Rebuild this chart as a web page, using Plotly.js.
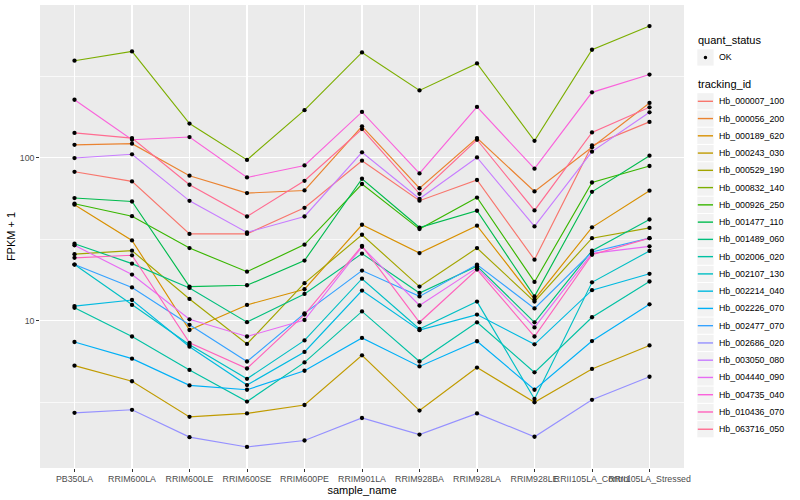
<!DOCTYPE html>
<html>
<head>
<meta charset="utf-8">
<script src="https://cdn.plot.ly/plotly-3.0.1.min.js"></script>
<style>html,body{margin:0;padding:0;background:#fff}#chart{width:800px;height:500px}</style>
</head>
<body>
<div id="chart"></div>
<script>
// ---- data (FPKM + 1) ----
const samples = ['PB350LA','RRIM600LA','RRIM600LE','RRIM600SE','RRIM600PE','RRIM901LA','RRIM928BA','RRIM928LA','RRIM928LE','RRII105LA_Control','RRII105LA_Stressed'];
const trackingIds = ['Hb_000007_100','Hb_000056_200','Hb_000189_620','Hb_000243_030','Hb_000529_190','Hb_000832_140','Hb_000926_250','Hb_001477_110','Hb_001489_060','Hb_002006_020','Hb_002107_130','Hb_002214_040','Hb_002226_070','Hb_002477_070','Hb_002686_020','Hb_003050_080','Hb_004440_090','Hb_004735_040','Hb_010436_070','Hb_063716_050'];
const quantStatus = ['OK'];

const hb_000007_100 = [82, 71.6, 34.1, 34.1, 49.3, 95.9, 54.5, 73.0, 23.7, 119, 166];
const hb_000056_200 = [120, 122, 77.6, 60.7, 63.0, 156, 65.0, 132, 62.1, 116, 217];
const hb_000189_620 = [51.5, 31.1, 8.77, 12.5, 15.6, 38.8, 26.0, 38.3, 13.5, 37.4, 62.8];
const hb_000243_030 = [5.3, 4.25, 2.57, 2.70, 3.04, 6.13, 2.81, 5.16, 3.16, 5.06, 7.05];
const hb_000529_190 = [25.6, 26.9, 13.6, 7.2, 17.0, 33.7, 16.2, 27.9, 13.1, 32.1, 37.1];
const hb_000832_140 = [394, 449, 162, 97, 196, 443, 259, 379, 127, 460, 643];
const hb_000926_250 = [52.2, 43.8, 27.9, 20.0, 29.3, 69.0, 36.5, 57.0, 17.3, 70.5, 89];
const hb_001477_110 = [56.6, 53.9, 16.2, 16.5, 23.4, 74.3, 37.3, 47.3, 14.1, 61.8, 103];
const hb_001489_060 = [29.7, 22.4, 15.9, 9.8, 14.6, 25.8, 14.8, 21.6, 9.78, 26.9, 41.8];
const hb_002006_020 = [12.0, 8.0, 4.99, 3.19, 5.55, 11.4, 5.62, 9.78, 4.82, 10.5, 17.4];
const hb_002107_130 = [22.1, 12.5, 7.12, 4.40, 7.57, 18.1, 8.9, 13.1, 3.31, 17.2, 26.8];
const hb_002214_040 = [12.3, 13.4, 6.93, 4.03, 6.43, 15.3, 8.75, 10.9, 7.16, 15.4, 19.4];
const hb_002226_070 = [7.4, 5.85, 4.01, 3.77, 4.93, 7.84, 5.24, 7.48, 3.77, 7.5, 12.6];
const hb_002477_070 = [22.1, 16.0, 9.44, 5.62, 11.1, 20.3, 14.1, 22.1, 11.9, 26.4, 32.1];
const hb_002686_020 = [2.72, 2.84, 1.93, 1.68, 1.84, 2.53, 2.0, 2.70, 1.94, 3.27, 4.53];
const hb_003050_080 = [99.6, 105, 54.4, 34.8, 43.6, 108, 56.0, 100.4, 37.9, 109, 190];
const hb_004440_090 = [29, 19.2, 10.2, 8.0, 10.1, 28.4, 12.4, 21.1, 9.1, 25.9, 28.6];
const hb_004735_040 = [227, 129, 134, 75.7, 89.7, 191, 80.1, 205, 85.7, 252, 324];
const hb_010436_070 = [24.3, 25.2, 7.32, 5.09, 10.9, 28.8, 9.78, 20.6, 8.0, 25.4, 32.1];
const hb_063716_050 = [142, 132, 68.3, 43.6, 72.2, 150, 60.1, 129, 47.5, 143, 204];

const seriesValues = [hb_000007_100, hb_000056_200, hb_000189_620, hb_000243_030, hb_000529_190, hb_000832_140, hb_000926_250, hb_001477_110, hb_001489_060, hb_002006_020, hb_002107_130, hb_002214_040, hb_002226_070, hb_002477_070, hb_002686_020, hb_003050_080, hb_004440_090, hb_004735_040, hb_010436_070, hb_063716_050];

// ggplot2 default hue palette for 20 levels
const colors = ['#F8766D','#EA8331','#D89000','#C09B00','#A3A500','#7CAE00','#39B600','#00BB4E','#00BF7D','#00C1A3','#00BFC4','#00BAE0','#00B0F6','#35A2FF','#9590FF','#C77CFF','#E76BF3','#FA62DB','#FF62BC','#FF6C91'];

// ---- layout geometry ----
const W = 800, H = 500;
const M = {l: 40, r: 116, t: 5, b: 32};
const PW = W - M.l - M.r, PH = H - M.t - M.b;
const px = v => (v - M.l) / PW;
const py = v => (H - M.b - v) / PH;
const FONT = 'Liberation Sans, Arial, Helvetica, sans-serif';

// ---- traces: lines first, then points on top ----
const traces = [];
seriesValues.forEach((vals, i) => {
  traces.push({
    type: 'scatter', mode: 'lines', x: samples, y: vals, name: trackingIds[i],
    line: {color: colors[i], width: 1.15}, showlegend: false, hoverinfo: 'x+y+name'
  });
});
seriesValues.forEach((vals, i) => {
  traces.push({
    type: 'scatter', mode: 'markers', x: samples, y: vals, name: quantStatus[0],
    marker: {color: '#000000', size: 4.3}, showlegend: false, hoverinfo: 'skip'
  });
});

// y range: log10 data range expanded by 5%
const allLog = seriesValues.flat().map(v => Math.log10(v));
const lo = Math.min(...allLog), hi = Math.max(...allLog);
const pad = 0.05 * (hi - lo);

// ---- manual ggplot-style legend ----
const shapes = [];
const annotations = [];
annotations.push({xref: 'paper', yref: 'paper', x: px(696), y: py(40), xanchor: 'left', yanchor: 'middle',
  text: 'quant_status', showarrow: false, font: {family: FONT, size: 11, color: '#000'}});
shapes.push({type: 'rect', xref: 'paper', yref: 'paper', x0: px(697.3), x1: px(713.6), y0: py(49.3), y1: py(65.6),
  fillcolor: '#F2F2F2', line: {width: 0}, layer: 'above'});
shapes.push({type: 'circle', xref: 'paper', yref: 'paper', x0: px(703.7), x1: px(707.2), y0: py(55.7), y1: py(59.2),
  fillcolor: '#000', line: {width: 0}, layer: 'above'});
annotations.push({xref: 'paper', yref: 'paper', x: px(716.7), y: py(57.5), xanchor: 'left', yanchor: 'middle',
  text: quantStatus[0], showarrow: false, font: {family: FONT, size: 8.8, color: '#000'}});
annotations.push({xref: 'paper', yref: 'paper', x: px(696), y: py(84.3), xanchor: 'left', yanchor: 'middle',
  text: 'tracking_id', showarrow: false, font: {family: FONT, size: 11, color: '#000'}});
const step = 17.26;
trackingIds.forEach((id, i) => {
  const cy = 101.3 + step * i;
  shapes.push({type: 'rect', xref: 'paper', yref: 'paper', x0: px(697.3), x1: px(713.6), y0: py(cy - 8.1), y1: py(cy + 8.1),
    fillcolor: '#F2F2F2', line: {width: 0}, layer: 'above'});
  shapes.push({type: 'line', xref: 'paper', yref: 'paper', x0: px(697.8), x1: px(713), y0: py(cy), y1: py(cy),
    line: {color: colors[i], width: 1.4}, layer: 'above'});
  annotations.push({xref: 'paper', yref: 'paper', x: px(716.7), y: py(cy), xanchor: 'left', yanchor: 'middle',
    text: id, showarrow: false, font: {family: FONT, size: 8.8, color: '#000'}});
});

const layout = {
  width: W, height: H,
  margin: M,
  paper_bgcolor: '#FFFFFF',
  plot_bgcolor: '#EBEBEB',
  font: {family: FONT, color: '#000'},
  showlegend: false,
  xaxis: {
    type: 'category', range: [-0.6, samples.length - 0.4],
    tickmode: 'array', tickvals: samples, ticktext: samples, tickangle: 0,
    ticks: 'outside', ticklen: 2.75, tickwidth: 1, tickcolor: '#333333',
    tickfont: {family: FONT, size: 8.8, color: '#4D4D4D'},
    showgrid: true, gridcolor: '#FFFFFF', gridwidth: 1.4,
    zeroline: false, showline: false, fixedrange: true,
    title: {text: 'sample_name', font: {family: FONT, size: 11, color: '#000'}, standoff: 1}
  },
  yaxis: {
    type: 'log', range: [lo - pad, hi + pad],
    tickmode: 'array', tickvals: [10, 100], ticktext: ['10', '100'],
    ticks: 'outside', ticklen: 2.75, tickwidth: 1, tickcolor: '#333333',
    tickfont: {family: FONT, size: 8.8, color: '#4D4D4D'},
    showgrid: true, gridcolor: '#FFFFFF', gridwidth: 1.4,
    minor: {tickmode: 'array', tickvals: [Math.sqrt(10), Math.sqrt(1000), Math.sqrt(100000)], showgrid: true,
      gridcolor: '#FFFFFF', gridwidth: 0.7, ticks: ''},
    zeroline: false, showline: false, fixedrange: true,
    title: {text: 'FPKM + 1', font: {family: FONT, size: 11, color: '#000'}, standoff: 1}
  },
  shapes: shapes,
  annotations: annotations
};

Plotly.newPlot('chart', traces, layout, {displayModeBar: false, staticPlot: true});
</script>
</body>
</html>
